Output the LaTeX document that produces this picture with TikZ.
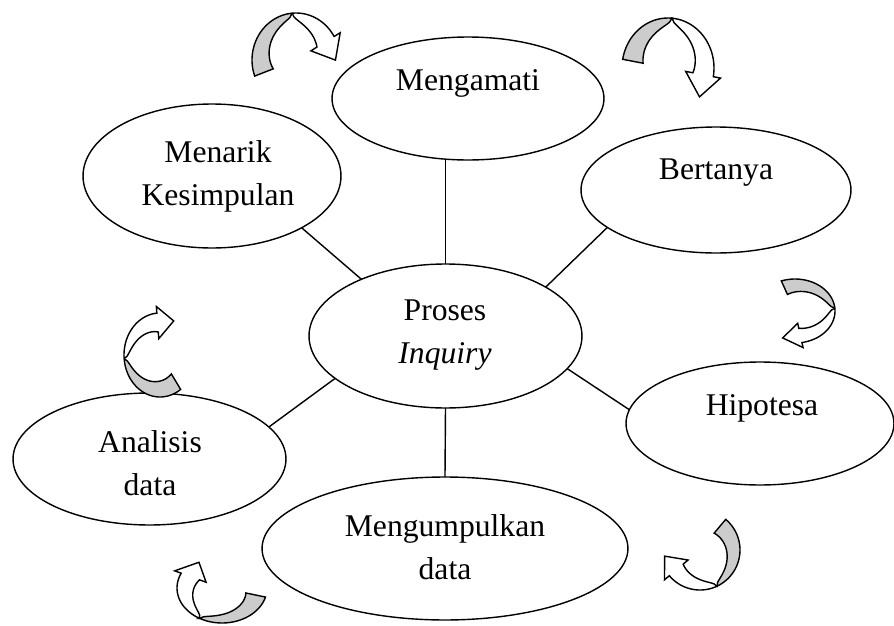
\documentclass[tikz,border=0pt]{standalone}
\usepackage{fontspec}
\setmainfont{Liberation Serif}
\usepackage{tikz}
\usetikzlibrary{shapes.geometric}

\tikzset{
  bubble/.style={draw, ellipse, line width=0.8pt, fill=white, inner sep=0pt, outer sep=0pt},
  lbl/.style={font=\fontsize{18}{24.5}\selectfont, align=center, inner sep=0pt},
  link/.style={line width=0.8pt},
  arrowback/.style={draw, line width=0.8pt, fill=black!20},
  arrowfront/.style={draw, line width=0.8pt, fill=white}
}

% gebogener Pfeil: Optionen, Startwinkel, Knickwinkel, Endwinkel
\newcommand{\twistarrow}[4]{%
  \begin{scope}[#1]
    \filldraw[arrowback] plot[domain=#2:#3, samples=30] (\x:1)
      -- plot[domain=#3:#2, samples=30] (\x:{1-0.45*sqrt(abs((\x-(#3))/((#2)-(#3))))}) -- cycle;
    \filldraw[arrowfront] plot[domain=#3:#4, samples=30] (\x:1)
      -- (#4:1.16)
      -- ({0.775*cos(#4)+0.45*cos(#4-90)},{0.775*sin(#4)+0.45*sin(#4-90)})
      -- (#4:0.39)
      -- plot[domain=#4:#3, samples=30] (\x:{1-0.45*sqrt(abs(((#3)-\x)/((#3)-(#4))))}) -- cycle;
  \end{scope}}

\begin{document}
\begin{tikzpicture}[x=0.02cm, y=-0.02cm]
  \useasboundingbox (0,0) rectangle (894,626);

  % die Ellipsen
  \node[bubble, minimum width=5.44cm, minimum height=2.46cm] (mengamati) at (468,98.5) {};
  \node[bubble, minimum width=5.16cm, minimum height=2.88cm] (menarik) at (212,176) {};
  \node[bubble, minimum width=5.40cm, minimum height=2.52cm] (bertanya) at (716,190) {};
  \node[bubble, minimum width=5.46cm, minimum height=2.88cm] (proses) at (445.5,336) {};
  \node[bubble, minimum width=5.36cm, minimum height=2.46cm] (hipotesa) at (760,423.5) {};
  \node[bubble, minimum width=5.46cm, minimum height=2.64cm] (analisis) at (149.5,459) {};
  \node[bubble, minimum width=7.32cm, minimum height=2.86cm] (kumpul) at (445,548.5) {};

  % Texte
  \node[lbl] (t-mengamati) at (468,83) {Mengamati};
  \node[lbl] (t-menarik) at (218,176) {Menarik\\Kesimpulan};
  \node[lbl] (t-bertanya) at (716,173) {Bertanya};
  \node[lbl] (t-proses) at (445,335) {Proses\\\textit{Inquiry}};
  \node[lbl] (t-hipotesa) at (762,408) {Hipotesa};
  \node[lbl] (t-analisis) at (150,463.5) {Analisis\\data};
  \node[lbl] (t-kumpul) at (445,547.5) {Mengumpulkan\\data};

  % Verbindungen zur Mitte
  \draw[link] (proses.north) -- (proses.north |- mengamati.south);
  \draw[link] (proses.146) -- (menarik.-30);
  \draw[link] (proses.26) -- (bertanya.199);
  \draw[link] (proses.201) -- (analisis.15);
  \draw[link] (proses.-15) -- (hipotesa.174);
  \draw[link] (proses.south) -- (kumpul.north);

  % Pfeile im Uhrzeigersinn
  \twistarrow{shift={(296,60)}, xscale=44, yscale=-47}{200}{95}{30}
  \twistarrow{shift={(668,68)}, xscale=46, yscale=-50}{170}{85}{-10}
  \twistarrow{shift={(795,311)}, xscale=40, yscale=-32}{110}{5}{-80}
  \twistarrow{shift={(700,550)}, xscale=40, yscale=-40}{50}{-65}{-140}
  \twistarrow{shift={(222,588)}, xscale=45, yscale=-35}{-15}{-120}{-205}
  \twistarrow{shift={(160,355)}, xscale=36, yscale=-42}{-55}{-175}{-265}
\end{tikzpicture}
\end{document}
